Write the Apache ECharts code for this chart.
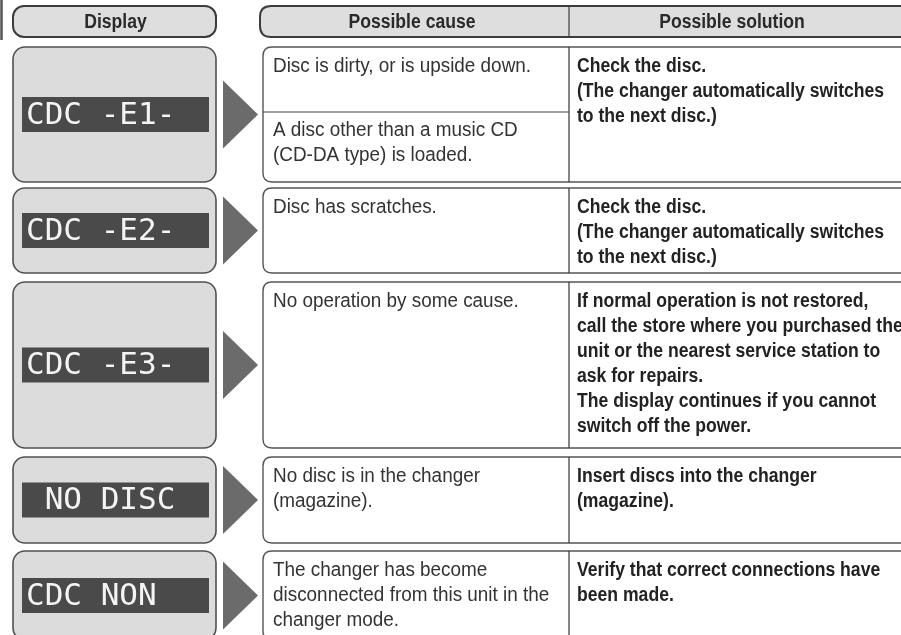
<!DOCTYPE html>
<html><head><meta charset="utf-8">
<script src="https://cdn.jsdelivr.net/npm/echarts@6/dist/echarts.min.js"></script>
<style>html,body{margin:0;padding:0;background:#fff}#c{width:901px;height:635px}</style>
</head><body><div id="c"></div>
<script>
// ---- table content ----
const headers = ['Display', 'Possible cause', 'Possible solution'];
const displayCodes = ['CDC -E1-', 'CDC -E2-', 'CDC -E3-', ' NO DISC', 'CDC NON'];
const causeCells = [
  ['Disc is dirty, or is upside down.', 'A disc other than a music CD\n(CD-DA type) is loaded.'],
  ['Disc has scratches.'],
  ['No operation by some cause.'],
  ['No disc is in the changer\n(magazine).'],
  ['The changer has become\ndisconnected from this unit in the\nchanger mode.']
];
const solutions = [
  'Check the disc.\n(The changer automatically switches\nto the next disc.)',
  'Check the disc.\n(The changer automatically switches\nto the next disc.)',
  'If normal operation is not restored,\ncall the store where you purchased the\nunit or the nearest service station to\nask for repairs.\nThe display continues if you cannot\nswitch off the power.',
  'Insert discs into the changer\n(magazine).',
  'Verify that correct connections have\nbeen made.'
];

// ---- layout (page units on the hidden value axes) ----
const rowTops = [47, 188, 282, 457, 551];
const rowBottoms = [182, 273, 448, 543, 640];
const subDivider = {0: [112]};
const L = {boxL: 13, boxR: 216, barL: 22, barR: 209, barH: 35, arrowL: 223, arrowR: 258, arrowH: 34,
  rightL: 263, rightR: 910, divX: 569, causeX: 273, solX: 577, lineH: 25, textPad: 6.5,
  regScale: 0.945, boldScale: 0.88};

const sans = "'Liberation Sans',Arial,sans-serif";
const chart = echarts.init(document.getElementById('c'), null, {renderer: 'canvas'});

function rightPath(api, x0, y0, x1, y1, r) {
  const a = api.coord([x0, y0]), b = api.coord([x1, y1]);
  return `M${b[0]},${a[1]} L${a[0] + r},${a[1]} Q${a[0]},${a[1]} ${a[0]},${a[1] + r} L${a[0]},${b[1] - r} Q${a[0]},${b[1]} ${a[0] + r},${b[1]} L${b[0]},${b[1]}`;
}
function rectOf(api, x0, y0, x1, y1) {
  const a = api.coord([x0, y0]), b = api.coord([x1, y1]);
  return {x: a[0], y: a[1], width: b[0] - a[0], height: b[1] - a[1]};
}
function txt(p, text, opts, scale) {
  return {type: 'text', x: p[0], y: p[1], scaleX: scale, scaleY: 1,
    style: Object.assign({text: text, x: 0, y: 0}, opts)};
}

function renderHeader(params, api) {
  const ch = [];
  const y0 = 6, y1 = 37;
  const v0 = api.coord([1.5, 0]), v1 = api.coord([1.5, 40]);
  ch.push({type: 'line', shape: {x1: v0[0], y1: v0[1], x2: v1[0], y2: v1[1]}, style: {stroke: '#555', lineWidth: 2.5}});
  ch.push({type: 'rect', shape: Object.assign(rectOf(api, L.boxL, y0, L.boxR, y1), {r: 11}),
    style: {fill: '#dedede', stroke: '#3c3c3c', lineWidth: 2}});
  ch.push({type: 'path', shape: {pathData: rightPath(api, 260, y0, L.rightR, y1, 11) + ' Z'},
    style: {fill: '#dedede', stroke: '#3c3c3c', lineWidth: 2}});
  const d0 = api.coord([L.divX, y0]), d1 = api.coord([L.divX, y1]);
  ch.push({type: 'line', shape: {x1: d0[0], y1: d0[1], x2: d1[0], y2: d1[1]}, style: {stroke: '#3c3c3c', lineWidth: 1.2}});
  const cx = [(L.boxL + L.boxR) / 2 + 1, (L.rightL + L.divX) / 2 - 4, (L.divX + 901) / 2 - 3];
  headers.forEach((h, k) => {
    const p = api.coord([cx[k], (y0 + y1) / 2 + 1]);
    ch.push(txt(p, h, {align: 'center', verticalAlign: 'middle', font: `bold 20px ${sans}`, fill: '#2a2a2a'}, L.boldScale));
  });
  return {type: 'group', children: ch};
}

function renderRow(params, api) {
  const i = params.dataIndex;
  const top = rowTops[i], bot = rowBottoms[i], mid = (top + bot) / 2;
  const ch = [];
  ch.push({type: 'rect', shape: Object.assign(rectOf(api, L.boxL, top, L.boxR, bot), {r: 12}),
    style: {fill: '#dcdcdc', stroke: '#505050', lineWidth: 1.6}});
  ch.push({type: 'rect', shape: rectOf(api, L.barL, mid - L.barH / 2, L.barR, mid + L.barH / 2),
    style: {fill: '#4a4a4a'}});
  const tp = api.coord([26, mid + 1]);
  ch.push({type: 'text', style: {text: displayCodes[i], x: tp[0], y: tp[1], verticalAlign: 'middle',
    font: "31px 'DejaVu Sans Mono',monospace", fill: '#f4f4f4'}});
  ch.push({type: 'polygon', shape: {points: [api.coord([L.arrowL, mid - L.arrowH]), api.coord([L.arrowR, mid]), api.coord([L.arrowL, mid + L.arrowH])]},
    style: {fill: '#6b6b6b'}});
  ch.push({type: 'path', shape: {pathData: rightPath(api, L.rightL, top, L.rightR, bot, 9)},
    style: {fill: '#fff', stroke: '#555', lineWidth: 1.4}});
  const d0 = api.coord([L.divX, top]), d1 = api.coord([L.divX, bot]);
  ch.push({type: 'line', shape: {x1: d0[0], y1: d0[1], x2: d1[0], y2: d1[1]}, style: {stroke: '#333', lineWidth: 1.2}});
  const cellTops = [top].concat(subDivider[i] || []);
  (subDivider[i] || []).forEach(sy => {
    const s0 = api.coord([L.rightL, sy]), s1 = api.coord([L.divX, sy]);
    ch.push({type: 'line', shape: {x1: s0[0], y1: s0[1], x2: s1[0], y2: s1[1]}, style: {stroke: '#444', lineWidth: 1.2}});
  });
  causeCells[i].forEach((t, k) => {
    const p = api.coord([L.causeX, cellTops[k] + L.textPad - (k > 0 ? 1 : 0)]);
    ch.push(txt(p, t, {verticalAlign: 'top', lineHeight: L.lineH, font: `20px ${sans}`, fill: '#333'}, L.regScale));
  });
  const sp = api.coord([L.solX, top + L.textPad]);
  ch.push(txt(sp, solutions[i], {verticalAlign: 'top', lineHeight: L.lineH, font: `bold 20px ${sans}`, fill: '#222'}, L.boldScale));
  return {type: 'group', children: ch};
}

chart.setOption({
  animation: false,
  backgroundColor: '#ffffff',
  grid: {left: 0, right: 0, top: 0, bottom: 0},
  xAxis: {type: 'value', min: 0, max: 901, show: false},
  yAxis: {type: 'value', min: 0, max: 635, inverse: true, show: false},
  series: [
    {type: 'custom', renderItem: renderHeader, data: [[0, 0]], clip: false, silent: true},
    {type: 'custom', renderItem: renderRow, data: displayCodes.map((d, i) => [i, rowTops[i]]), clip: false, silent: true}
  ]
});
</script></body></html>
